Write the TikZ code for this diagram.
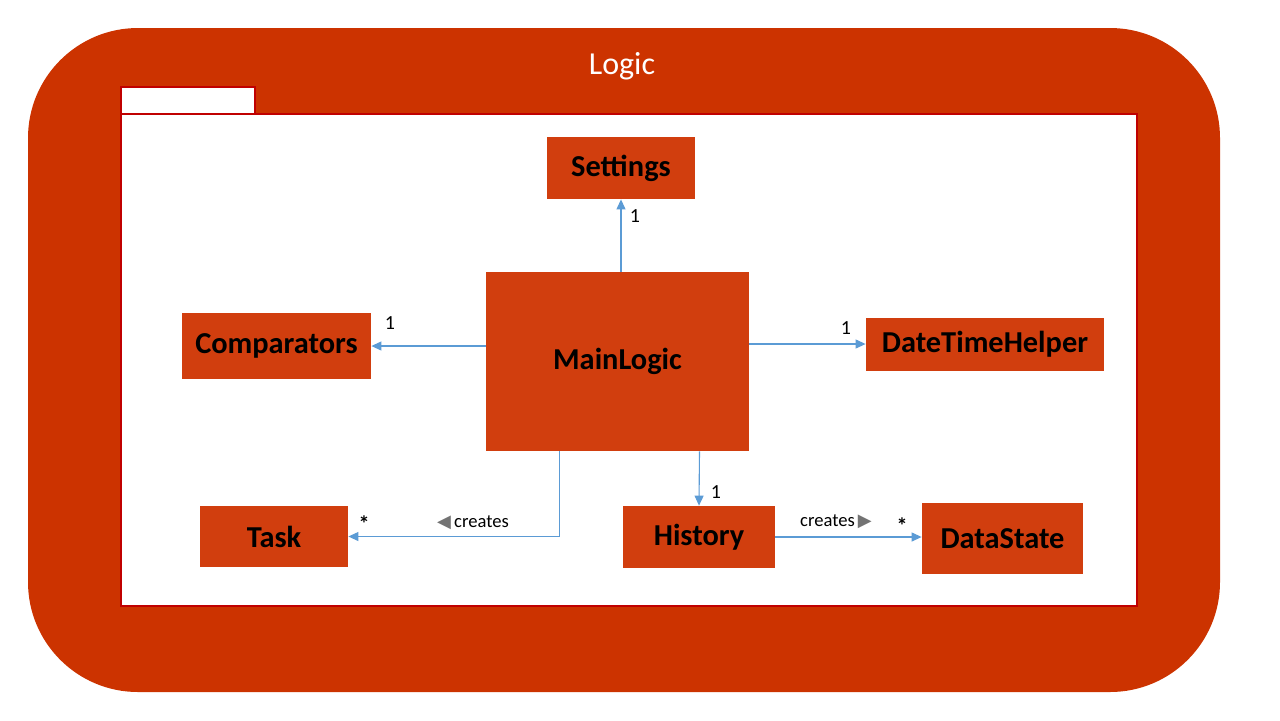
\documentclass[tikz,border=0pt]{standalone}
\usepackage{fontspec}
\setmainfont{Carlito}
\newfontfamily\symfont{DejaVu Sans}
\usetikzlibrary{positioning,arrows.meta,calc}
\definecolor{LogicRed}{HTML}{CC3300}
\definecolor{BoxRed}{HTML}{D13E0E}
\definecolor{EdgeRed}{HTML}{C00000}
\definecolor{LinkBlue}{HTML}{5B9BD5}

\begin{document}
\begin{tikzpicture}[
  x=0.5pt,y=-0.5pt,
  cls/.style={fill=BoxRed,inner sep=0pt,font=\fontsize{15.2}{17}\selectfont\bfseries,text=black},
  ar/.style={-{Triangle[length=5pt,width=4.5pt]},draw=LinkBlue,line width=0.55pt},
  mult/.style={font=\fontsize{10}{12}\selectfont,inner sep=0pt},
  star/.style={font=\fontsize{11}{12}\selectfont\bfseries,inner sep=0pt},
  lbl/.style={font=\fontsize{9.3}{11}\selectfont,inner sep=0pt},
]
\useasboundingbox (0,0) rectangle (1280,720);
% outer package frame with its title
\fill[LogicRed,rounded corners=55pt] (28,28) rectangle (1220,692);
\node[text=white,font=\fontsize{16}{18}\selectfont] (title) at (622,66) {Logic};
\draw[EdgeRed,fill=white,line width=0.8pt] (121,87) rectangle (255,114);
\draw[EdgeRed,fill=white,line width=0.8pt] (121,114) rectangle (1137,606);

% classes
\node[cls,minimum width=74pt,minimum height=31pt] (set) at (621,168) {Settings};
\node[cls,minimum width=131.5pt,minimum height=89.5pt] (main) at (617.5,361.5) {MainLogic};
\node[cls,minimum width=94.5pt,minimum height=33pt] (cmp) at (276.5,346) {Comparators};
\node[cls,minimum width=119pt,minimum height=26.5pt] (dth) at (985,344) {DateTimeHelper};
\node[cls,minimum width=74pt,minimum height=30.5pt] (task) at (274,536.5) {Task};
\node[cls,minimum width=76pt,minimum height=31pt] (hist) at (699,537) {History};
\node[cls,minimum width=80.5pt,minimum height=35.5pt] (ds) at (1002.5,538.5) {DataState};

% associations
\draw[ar] (main.north -| set.south) -- (set.south);
\draw[ar] (main.west |- cmp.east) -- (cmp.east);
\draw[ar] (main.east |- dth.west) -- (dth.west);
\draw[ar] ([xshift=-29pt]main.south) |- (task.east);
\draw[ar] ([xshift=41pt]main.south) -- (hist.north);
\draw[ar] (hist.east) -- (hist.east -| ds.west);

% multiplicities and labels
\node[mult] (m1) at (635,216) {1};
\node[mult] (m2) at (390,323) {1};
\node[mult] (m3) at (846,328) {1};
\node[mult] (m4) at (716,492) {1};
\node[star] (m5) at (364,524) {*};
\node[star] (m6) at (902,526) {*};
\node[lbl] (c1) at (473,523) {\textcolor{black!55}{\symfont\fontsize{9}{10}\selectfont ◀}\,creates};
\node[lbl] (c2) at (836,522) {creates\,\textcolor{black!55}{\symfont\fontsize{9}{10}\selectfont ▶}};
\end{tikzpicture}
\end{document}
